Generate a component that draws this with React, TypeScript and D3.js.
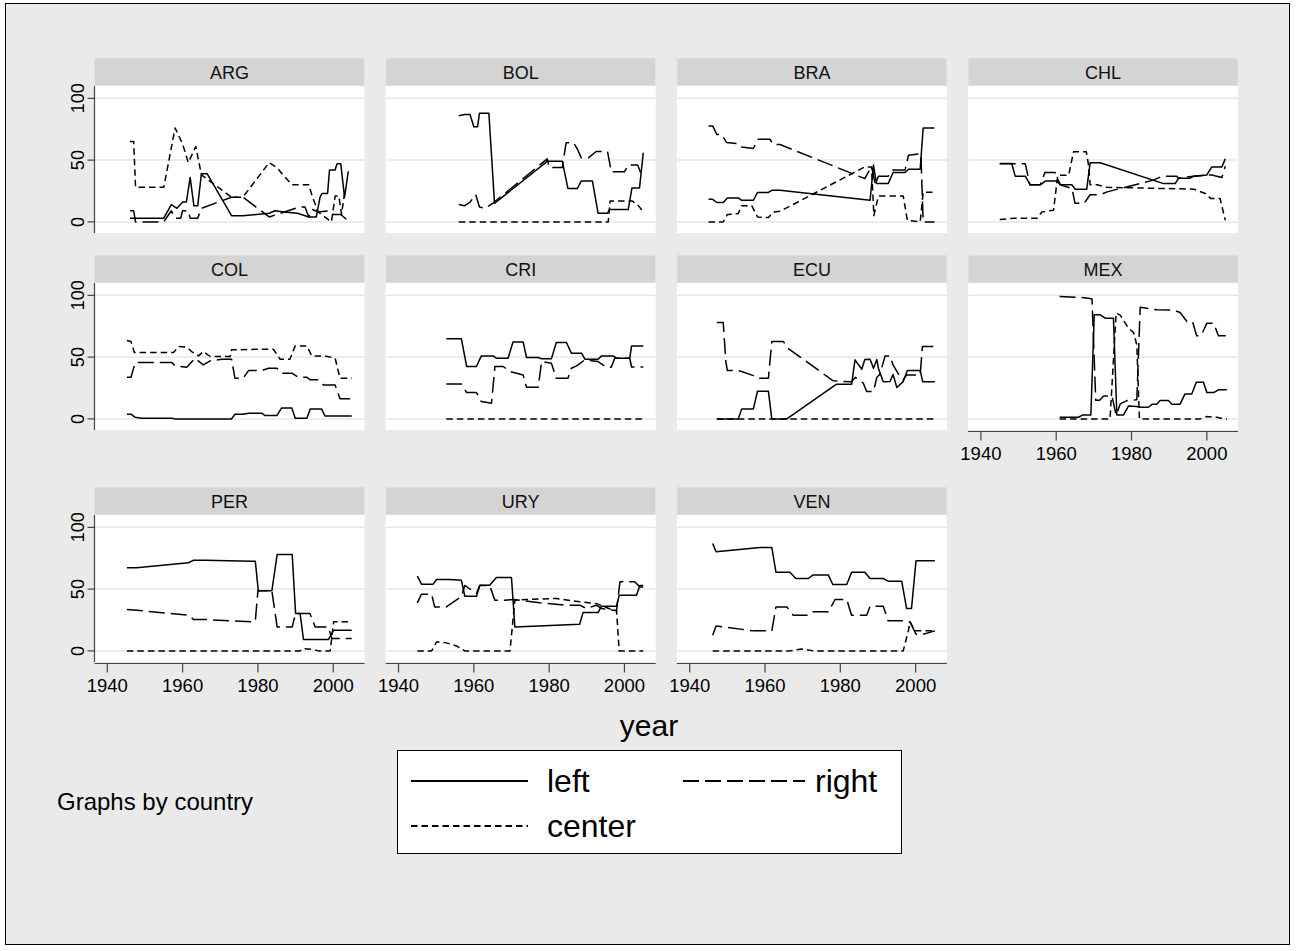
import React from 'react';
import * as d3 from 'd3';

type Pt = [number, number];

// country panels, in the order stata lays them out
const countries = ['ARG', 'BOL', 'BRA', 'CHL', 'COL', 'CRI', 'ECU', 'MEX', 'PER', 'URY', 'VEN'];
const seriesNames = ['left', 'right', 'center'];
const yTicks = [0, 50, 100];
const xTicks = [1940, 1960, 1980, 2000];

const ARG_left: Pt[] = [[1946, 3], [1955, 3], [1957, 14], [1958.5, 11], [1960, 16], [1961, 16], [1962, 36], [1963, 13], [1964, 13], [1965, 39], [1966.5, 39], [1973, 5], [1976, 5], [1983, 7], [1984.5, 9], [1987, 8], [1990.5, 7], [1993.5, 4], [1995.5, 4], [1996.5, 20], [1997, 23], [1998.5, 23], [1999, 42], [2000.5, 42], [2001, 47], [2002, 47], [2003, 20], [2004, 41]];
const ARG_right: Pt[] = [[1946, 9], [1947, 9], [1947.5, 0], [1955, 0], [1957, 9], [1958, 3], [1959.5, 3], [1960, 9], [1961.5, 9], [1962, 3], [1964, 3], [1965, 11], [1973, 20], [1976, 20], [1983, 4], [1987, 8], [1989, 10], [1991, 12], [1992.5, 12], [1993.5, 4], [1994.5, 10], [1996, 8], [1999, 9], [2000, 6], [2002, 6], [2003.5, 2]];
const ARG_center: Pt[] = [[1946, 65], [1947, 65], [1947.5, 28], [1955, 28], [1958, 76], [1960, 63], [1961.5, 48], [1963.5, 61], [1965, 38], [1973, 20], [1976, 20], [1983, 48], [1985, 44], [1987, 37], [1989, 30], [1993.5, 30], [1994.5, 20], [1996, 8], [1999.5, 0], [2000.5, 21], [2001.5, 21], [2002.2, 6], [2003, 23], [2004, 23]];

const BOL_left: Pt[] = [[1956, 86], [1957.5, 87], [1959, 87], [1960, 77], [1961, 77], [1961.5, 88], [1964, 88], [1965.5, 15], [1979.5, 49], [1983.5, 49], [1985, 27], [1987.5, 27], [1988.5, 33], [1991.5, 33], [1993, 7], [1995.5, 7], [1996, 10], [2001, 10], [2002, 27.5], [2004, 27.5], [2005, 56]];
const BOL_right: Pt[] = [[1956, 14], [1957.5, 13], [1959, 16], [1960.5, 22], [1961.5, 12], [1963, 11], [1965, 15], [1979.5, 51], [1980, 44], [1983.5, 44], [1984.5, 64], [1986.5, 64], [1987.5, 59], [1988.5, 52], [1990.5, 52], [1992.5, 57], [1995.5, 57], [1996.5, 40.5], [2000, 40.5], [2001, 46], [2003.5, 46], [2004.3, 40]];
const BOL_center: Pt[] = [[1956, 0], [1995.7, 0], [1996.2, 17], [2002, 17], [2003.5, 14], [2005, 8]];

const BRA_left: Pt[] = [[1945, 18.4], [1946, 18.4], [1947.2, 15.7], [1948.9, 15.7], [1950, 19.4], [1952.9, 19.4], [1953.8, 17.5], [1956.9, 17.5], [1958, 23.8], [1960.9, 23.8], [1961.8, 25.6], [1964, 25.6], [1987.9, 17.5], [1988.8, 46], [1989.6, 31], [1992.7, 31], [1994, 40], [1997.2, 40], [1998.1, 42.6], [2001.2, 42.6], [2002, 76], [2005, 76]];
const BRA_right: Pt[] = [[1945, 77.7], [1946.1, 77.7], [1947.2, 70.7], [1948.5, 70.7], [1949.8, 64.2], [1952.9, 63.4], [1953.8, 60.7], [1956.9, 59.4], [1958.2, 66.9], [1961.3, 66.9], [1962.2, 62.6], [1964, 62.6], [1986.5, 35], [1988.3, 45], [1989.3, 30], [1990.1, 37], [1992.7, 37], [1994, 42], [1997.2, 42], [1998.1, 54], [2000.7, 55], [2001.4, 55], [2002, 0], [2005, 0]];
const BRA_center: Pt[] = [[1945, 0], [1948.9, 0], [1950, 6], [1952.9, 6.7], [1953.8, 13], [1956.5, 13], [1958, 4], [1960.9, 3.5], [1962.2, 8], [1964, 8.6], [1986.5, 44.5], [1988.3, 44.5], [1988.9, 5], [1990.1, 21], [1996.7, 21], [1997.8, 1.3], [2001.2, 0], [2002, 24], [2005, 24]];

const CHL_left: Pt[] = [[1945, 47.2], [1948.2, 47.2], [1949.1, 37], [1951.8, 37], [1953.1, 30], [1955.8, 30], [1957.1, 33], [1960.2, 33], [1961.1, 30], [1964.2, 30], [1965, 26.5], [1968.1, 26.5], [1969, 47.8], [1971.7, 47.8], [1988.5, 31], [1991.6, 31], [1992.5, 35.4], [1995.6, 35.4], [1996.5, 37], [2000, 38], [2001.3, 44.5], [2004, 44.5], [2004.9, 51]];
const CHL_right: Pt[] = [[1945, 47], [1951.8, 47], [1953, 30], [1955.8, 30], [1957, 40], [1959.7, 40], [1961.1, 30], [1964.2, 27], [1965, 15], [1967.4, 15], [1969, 22], [1971.7, 22], [1973.5, 24.3], [1980.5, 29.7], [1985.8, 33.8], [1988.1, 37], [1992, 37], [1992.5, 35.4], [1996.5, 37], [2000.4, 38], [2001.3, 38], [2004, 36], [2004.9, 45]];
const CHL_center: Pt[] = [[1945, 2], [1949, 3], [1954.9, 3], [1956.2, 8], [1959.3, 9.5], [1960.4, 37.8], [1963.3, 37.8], [1964.6, 56.7], [1968, 56.7], [1968.6, 45.6], [1969, 30], [1970.8, 30], [1973.5, 28], [1996.5, 26.5], [1999.6, 23], [2001, 19], [2003.5, 19], [2004.9, 1.3]];

const COL_left: Pt[] = [[1945.2, 3.8], [1946.3, 3.8], [1947.4, 1.3], [1949.2, 0.5], [1957.1, 0.5], [1958, 0], [1973, 0], [1973.9, 3.8], [1976.1, 3.8], [1977.5, 4.6], [1981, 4.6], [1981.9, 2.7], [1985, 2.7], [1986.3, 8.9], [1989, 8.9], [1989.9, 0.5], [1993, 0.5], [1993.9, 8.1], [1996.9, 8.1], [1997.8, 2.4], [2004.9, 2.4]];
const COL_right: Pt[] = [[1945.2, 33.7], [1946.3, 33.7], [1947.4, 45.6], [1957.1, 45.6], [1958, 42.9], [1961.1, 41.8], [1963.3, 49.1], [1965.5, 43.7], [1967.3, 47], [1970.4, 48.3], [1973, 48.3], [1973.9, 32.9], [1976.1, 32.9], [1977.5, 39.1], [1981, 39.1], [1982.8, 41], [1985, 41], [1986.3, 37], [1989, 37], [1990.7, 33.7], [1993, 33.7], [1993.9, 31.6], [1996.1, 31.6], [1997.4, 27.5], [2000.5, 27.5], [2001.8, 16.2], [2004.9, 16.2]];
const COL_center: Pt[] = [[1945.2, 63.4], [1946.3, 62.6], [1947.2, 53.7], [1957.6, 53.7], [1958.9, 58.6], [1961.1, 58], [1962.4, 54.5], [1964.2, 51], [1965.5, 54.5], [1967.3, 50.5], [1972.6, 50.5], [1973, 55.9], [1981, 56.4], [1984.1, 56.4], [1985.9, 48.3], [1988.5, 48.3], [1989.9, 59.1], [1993, 59.1], [1994.3, 51], [1997.8, 51], [2000.5, 49.1], [2001.8, 32.9], [2004.9, 32.9]];

const CRI_left: Pt[] = [[1952.7, 64.8], [1956.7, 64.8], [1958.1, 42.4], [1960.7, 42.4], [1962, 51], [1965.1, 51], [1966, 49.1], [1969.1, 49.1], [1970.4, 62.3], [1973.1, 62.3], [1974, 49.7], [1977.1, 49.7], [1978, 48.6], [1980.6, 48.6], [1981.9, 61.8], [1984.6, 61.8], [1985.9, 53.2], [1988.6, 53.2], [1989.5, 48.3], [1993, 48.3], [1993.9, 51], [1997, 51], [1997.9, 49.1], [2001.4, 49.1], [2001.9, 59.1], [2005, 59.1]];
const CRI_right: Pt[] = [[1952.7, 28.3], [1956.7, 28.3], [1958.1, 21.3], [1960.7, 21.3], [1962, 14], [1964.7, 12.7], [1965.6, 42.4], [1967.8, 42.4], [1969.6, 38.3], [1973.1, 35.6], [1974, 25.6], [1977.1, 25.6], [1978, 46.4], [1980.6, 45.1], [1981.9, 32.9], [1985, 32.9], [1985.9, 41], [1987.3, 42.9], [1989.5, 47.8], [1993, 46.4], [1995.2, 41.8], [1996.5, 41.8], [1997.4, 49.1], [2001.4, 49.1], [2001.9, 42], [2005, 42]];
const CRI_center: Pt[] = [[1952.7, 0], [2005, 0]];

const ECU_left: Pt[] = [[1947.2, 0], [1952.9, 0], [1953.8, 8.1], [1956.9, 8.1], [1958, 22.4], [1960.9, 22.4], [1961.8, 0], [1965.8, 0], [1979, 28.1], [1983, 28.1], [1983.9, 47.8], [1985.7, 40.2], [1986.5, 48], [1987.9, 48.3], [1988.8, 41], [1989.7, 48], [1990.1, 41], [1991.4, 30], [1993.2, 30.2], [1994, 36], [1995, 25.4], [1996.7, 30.2], [1997.8, 39.1], [2001.2, 39.1], [2001.9, 30], [2005.1, 30]];
const ECU_right: Pt[] = [[1947.2, 78], [1948.9, 78], [1949.6, 46.4], [1950, 39.1], [1952.9, 39.1], [1953.8, 38.3], [1956.9, 35], [1958, 32.9], [1960.9, 32.9], [1961.8, 62.6], [1964.9, 62.6], [1965.8, 57.8], [1978.1, 30.8], [1983, 30], [1984, 33.7], [1986.1, 28.9], [1987, 22.1], [1988.8, 22.1], [1989.7, 33.7], [1990.5, 36], [1991.9, 51], [1993.2, 51], [1994, 43.7], [1995.8, 34.3], [1996.7, 31.6], [1997.6, 35.6], [2001.2, 35.6], [2001.8, 58.6], [2004.7, 58.6]];
const ECU_center: Pt[] = [[1947.2, 0], [2005, 0]];

const MEX_left: Pt[] = [[1960.9, 1.3], [1965.9, 1.3], [1967.1, 3.2], [1969.2, 3.2], [1970.1, 84.2], [1971.7, 84.2], [1973, 81.5], [1975.2, 81.5], [1976.1, 3.2], [1977.9, 3.2], [1979.2, 10.5], [1981.4, 10], [1982.3, 9.4], [1984.5, 9.4], [1985.5, 11.9], [1986.7, 11.9], [1987.6, 14.8], [1989.8, 14.8], [1990.7, 11.9], [1992.9, 11.9], [1994.2, 20.2], [1996, 20.2], [1997.2, 29.7], [1999.1, 29.7], [2000, 21.3], [2001.8, 21.3], [2003.1, 23.5], [2005.3, 23.5]];
const MEX_right: Pt[] = [[1960.9, 99], [1965.5, 98.5], [1968.6, 97.7], [1969.5, 97], [1970.5, 15], [1971.5, 15], [1972.6, 18.6], [1974.8, 18.6], [1975.9, 3], [1977, 12.1], [1978.8, 14.8], [1981.4, 15.4], [1982.3, 90.4], [1986.7, 88.3], [1991.2, 88], [1992.9, 86.1], [1994.7, 78.8], [1996.2, 78.8], [1997.3, 67.2], [1998.5, 67.5], [2000, 77.5], [2001.8, 77.5], [2003.1, 67.2], [2005.3, 67.2]];
const MEX_center: Pt[] = [[1960.9, 0], [1974.3, 0], [1975.9, 85.6], [1977, 84], [1979.2, 73.4], [1980.5, 70], [1981.4, 60], [1982.1, 0], [1998.2, 0], [2000, 1.9], [2002.7, 1.3], [2004.4, 0], [2005.3, 0]];

const PER_left: Pt[] = [[1945.2, 67.2], [1947.8, 67.2], [1961.5, 71.3], [1962.9, 73.4], [1966, 73.4], [1978.4, 72.6], [1979.3, 72.6], [1980.1, 48.6], [1983.7, 48.6], [1985.1, 78], [1989.1, 78], [1990, 30.2], [1991.2, 30.2], [1992.1, 9.2], [1998.7, 9.2], [2000.1, 16.7], [2004.9, 16.7]];
const PER_right: Pt[] = [[1945.2, 33.5], [1947.8, 32.9], [1961.5, 28.9], [1962.9, 25.4], [1966, 25.4], [1978.4, 23.5], [1979.3, 24], [1980, 48.6], [1983.7, 48.6], [1985.1, 19.4], [1989.1, 19.4], [1990, 30.2], [1993.8, 30.2], [1995.2, 19.4], [1998.7, 19.4], [1999.6, 10], [2004.9, 10]];
const PER_center: Pt[] = [[1945.2, 0], [1991.2, 0], [1992.1, 1.9], [1994.3, 1.3], [1996.1, 0], [1999.2, 0], [2000.1, 23.5], [2004.9, 23.5]];

const URY_left: Pt[] = [[1945, 60.5], [1946.1, 54], [1949.2, 54], [1950.1, 57.8], [1953.6, 57.8], [1956.7, 57.2], [1957.6, 44.3], [1960.7, 44.3], [1961.6, 53.2], [1964.2, 53.2], [1966, 59.4], [1970, 59.4], [1970.9, 19.4], [1988.1, 21.6], [1989, 31], [1993, 31], [1993.9, 36.2], [1997.9, 36.2], [1998.6, 45.1], [2003.2, 45.1], [2004.1, 53], [2005, 53]];
const URY_right: Pt[] = [[1945, 38.9], [1946.1, 45.9], [1948.8, 45.9], [1949.6, 35.6], [1952.7, 35.6], [1956.7, 44], [1957.6, 53], [1960.7, 46.4], [1961.6, 53], [1964.2, 53], [1965.6, 41], [1968.2, 41], [1970.4, 41.6], [1977.5, 38.9], [1984.6, 37], [1988.1, 37], [1989.9, 34.3], [1992.6, 37], [1993.9, 34.3], [1997.9, 32.4], [1998.8, 55.9], [2002.7, 55.9], [2004.1, 51.8], [2005, 51.8]];
const URY_center: Pt[] = [[1945, 0], [1948.8, 0], [1950.1, 7.3], [1952.7, 6.5], [1955.4, 4], [1957.6, 0], [1969.6, 0], [1970.9, 41], [1974, 41.6], [1981.9, 42.4], [1988.1, 39.7], [1992.6, 38.3], [1997, 32.9], [1997.9, 32.9], [1998.6, 0], [2005, 0]];

const VEN_left: Pt[] = [[1946.1, 86.9], [1947, 80.2], [1958.7, 83.7], [1961.8, 83.7], [1962.9, 63.7], [1966.6, 63.7], [1968.2, 58.6], [1971.5, 58.6], [1972.8, 61.5], [1976.8, 61.5], [1978, 53.7], [1981.7, 53.7], [1983, 63.7], [1986.5, 63.7], [1987.9, 58.6], [1991.4, 58.6], [1992.7, 56.4], [1996.3, 56.4], [1997.6, 34.3], [1998.9, 34.3], [2000.1, 72.9], [2005.1, 72.9]];
const VEN_right: Pt[] = [[1946.1, 12.7], [1947, 20.2], [1956.9, 16.2], [1961.8, 16.2], [1962.9, 35.6], [1965.8, 35.6], [1967.5, 28.9], [1971.5, 28.9], [1972.8, 31.6], [1976.8, 31.6], [1978.6, 41.6], [1981.7, 41.6], [1983, 28.9], [1987, 28.9], [1987.9, 36.2], [1991.4, 36.2], [1992.7, 24.3], [1996.7, 24.3], [1998.5, 23.5], [2000.1, 13.5], [2002, 13.5], [2005.1, 16.2]];
const VEN_center: Pt[] = [[1946.1, 0], [1966.6, 0], [1969.7, 1.6], [1972.8, 0], [1996.7, 0], [1998.1, 16.7], [1998.5, 23.5], [1999.8, 16.2], [2005.1, 16.2]];

const panelData: Record<string, Pt[][]> = {
  ARG: [ARG_left, ARG_right, ARG_center],
  BOL: [BOL_left, BOL_right, BOL_center],
  BRA: [BRA_left, BRA_right, BRA_center],
  CHL: [CHL_left, CHL_right, CHL_center],
  COL: [COL_left, COL_right, COL_center],
  CRI: [CRI_left, CRI_right, CRI_center],
  ECU: [ECU_left, ECU_right, ECU_center],
  MEX: [MEX_left, MEX_right, MEX_center],
  PER: [PER_left, PER_right, PER_center],
  URY: [URY_left, URY_right, URY_center],
  VEN: [VEN_left, VEN_right, VEN_center]
};

// layout (px)
const W = 1296;
const H = 951;
const FONT = '"Liberation Sans", Arial, Helvetica, sans-serif';
const panelW = 270;
const plotH = 147;
const stripH = 28;
const colLeft = [94.5, 385.7, 676.9, 968.1];
const rowTop = [86, 283, 515];
const dashes = [undefined, '16 6', '6.5 4'];
const LINE_W = 1.5;

const x = d3.scaleLinear().domain([1936.6, 2008.3]).range([0, panelW]);
const y = d3.scaleLinear().domain([-9, 110]).range([plotH, 0]);
const line = d3
  .line<Pt>()
  .x(d => x(d[0]))
  .y(d => y(d[1]));

function Panel({ name, idx }: { name: string; idx: number }) {
  const col = idx % 4;
  const row = Math.floor(idx / 4);
  const left = colLeft[col];
  const top = rowTop[row];
  const showY = col === 0;
  const showX = idx + 4 >= countries.length;

  return (
    <g transform={`translate(${left},${top})`}>
      <rect x={0} y={-stripH} width={panelW} height={stripH} fill="#d4d4d4" stroke="#e2e6ec" strokeWidth={1} />
      <text x={panelW / 2} y={-stripH / 2 + 6.5} textAnchor="middle" fontSize={18} fontFamily={FONT} fill="#111">
        {name}
      </text>
      <rect x={0} y={0} width={panelW} height={plotH} fill="#fff" />
      {yTicks.map(t => (
        <line key={t} x1={0} x2={panelW} y1={y(t)} y2={y(t)} stroke="#e6e6e6" strokeWidth={1.5} />
      ))}
      {panelData[name].map((s, i) => (
        <path
          key={seriesNames[i]}
          d={line(s) || ''}
          fill="none"
          stroke="#000"
          strokeWidth={LINE_W}
          strokeDasharray={dashes[i]}
          strokeLinejoin="round"
        />
      ))}
      {showY && (
        <g>
          <line x1={0} x2={0} y1={0} y2={plotH} stroke="#444" strokeWidth={1.2} />
          {yTicks.map(t => (
            <g key={t} transform={`translate(0,${y(t)})`}>
              <line x1={-7} x2={0} stroke="#444" strokeWidth={1.2} />
              <text
                transform="translate(-11,0) rotate(-90)"
                textAnchor="middle"
                fontSize={18}
                fontFamily={FONT}
                fill="#000"
              >
                {t}
              </text>
            </g>
          ))}
        </g>
      )}
      {showX && (
        <g transform={`translate(0,${plotH + 1.5})`}>
          <line x1={0} x2={panelW} stroke="#444" strokeWidth={1.2} />
          {xTicks.map(t => (
            <g key={t} transform={`translate(${x(t)},0)`}>
              <line y1={0} y2={9} stroke="#444" strokeWidth={1.2} />
              <text y={28} textAnchor="middle" fontSize={18.5} fontFamily={FONT} fill="#000">
                {t}
              </text>
            </g>
          ))}
        </g>
      )}
    </g>
  );
}

function Legend() {
  const rows = [
    { label: 'left', x1: 411, x2: 528, tx: 547, y: 781, i: 0 },
    { label: 'right', x1: 683, x2: 805, tx: 815, y: 781, i: 1 },
    { label: 'center', x1: 411, x2: 528, tx: 547, y: 826, i: 2 }
  ];
  return (
    <g>
      <rect x={397.5} y={750.5} width={504} height={103} fill="#fff" stroke="#000" strokeWidth={1} />
      {rows.map(r => (
        <g key={r.label}>
          <line x1={r.x1} x2={r.x2} y1={r.y} y2={r.y} stroke="#000" strokeWidth={2} strokeDasharray={dashes[r.i]} />
          <text x={r.tx} y={r.y + 11} fontSize={32} fontFamily={FONT} fill="#000">
            {r.label}
          </text>
        </g>
      ))}
    </g>
  );
}

export default function App() {
  return (
    <svg
      width={W}
      height={H}
      viewBox={`0 0 ${W} ${H}`}
      style={{ position: 'absolute', left: 0, top: 0, display: 'block', background: '#fff' }}
    >
      <rect x={5.5} y={3.5} width={1284} height={941} fill="#eaeaea" stroke="#000" strokeWidth={1} />
      {countries.map((c, i) => (
        <Panel key={c} name={c} idx={i} />
      ))}
      <text x={649} y={736} textAnchor="middle" fontSize={30} fontFamily={FONT} fill="#000">
        year
      </text>
      <Legend />
      <text x={57} y={810} fontSize={24} fontFamily={FONT} fill="#000">
        Graphs by country
      </text>
    </svg>
  );
}
